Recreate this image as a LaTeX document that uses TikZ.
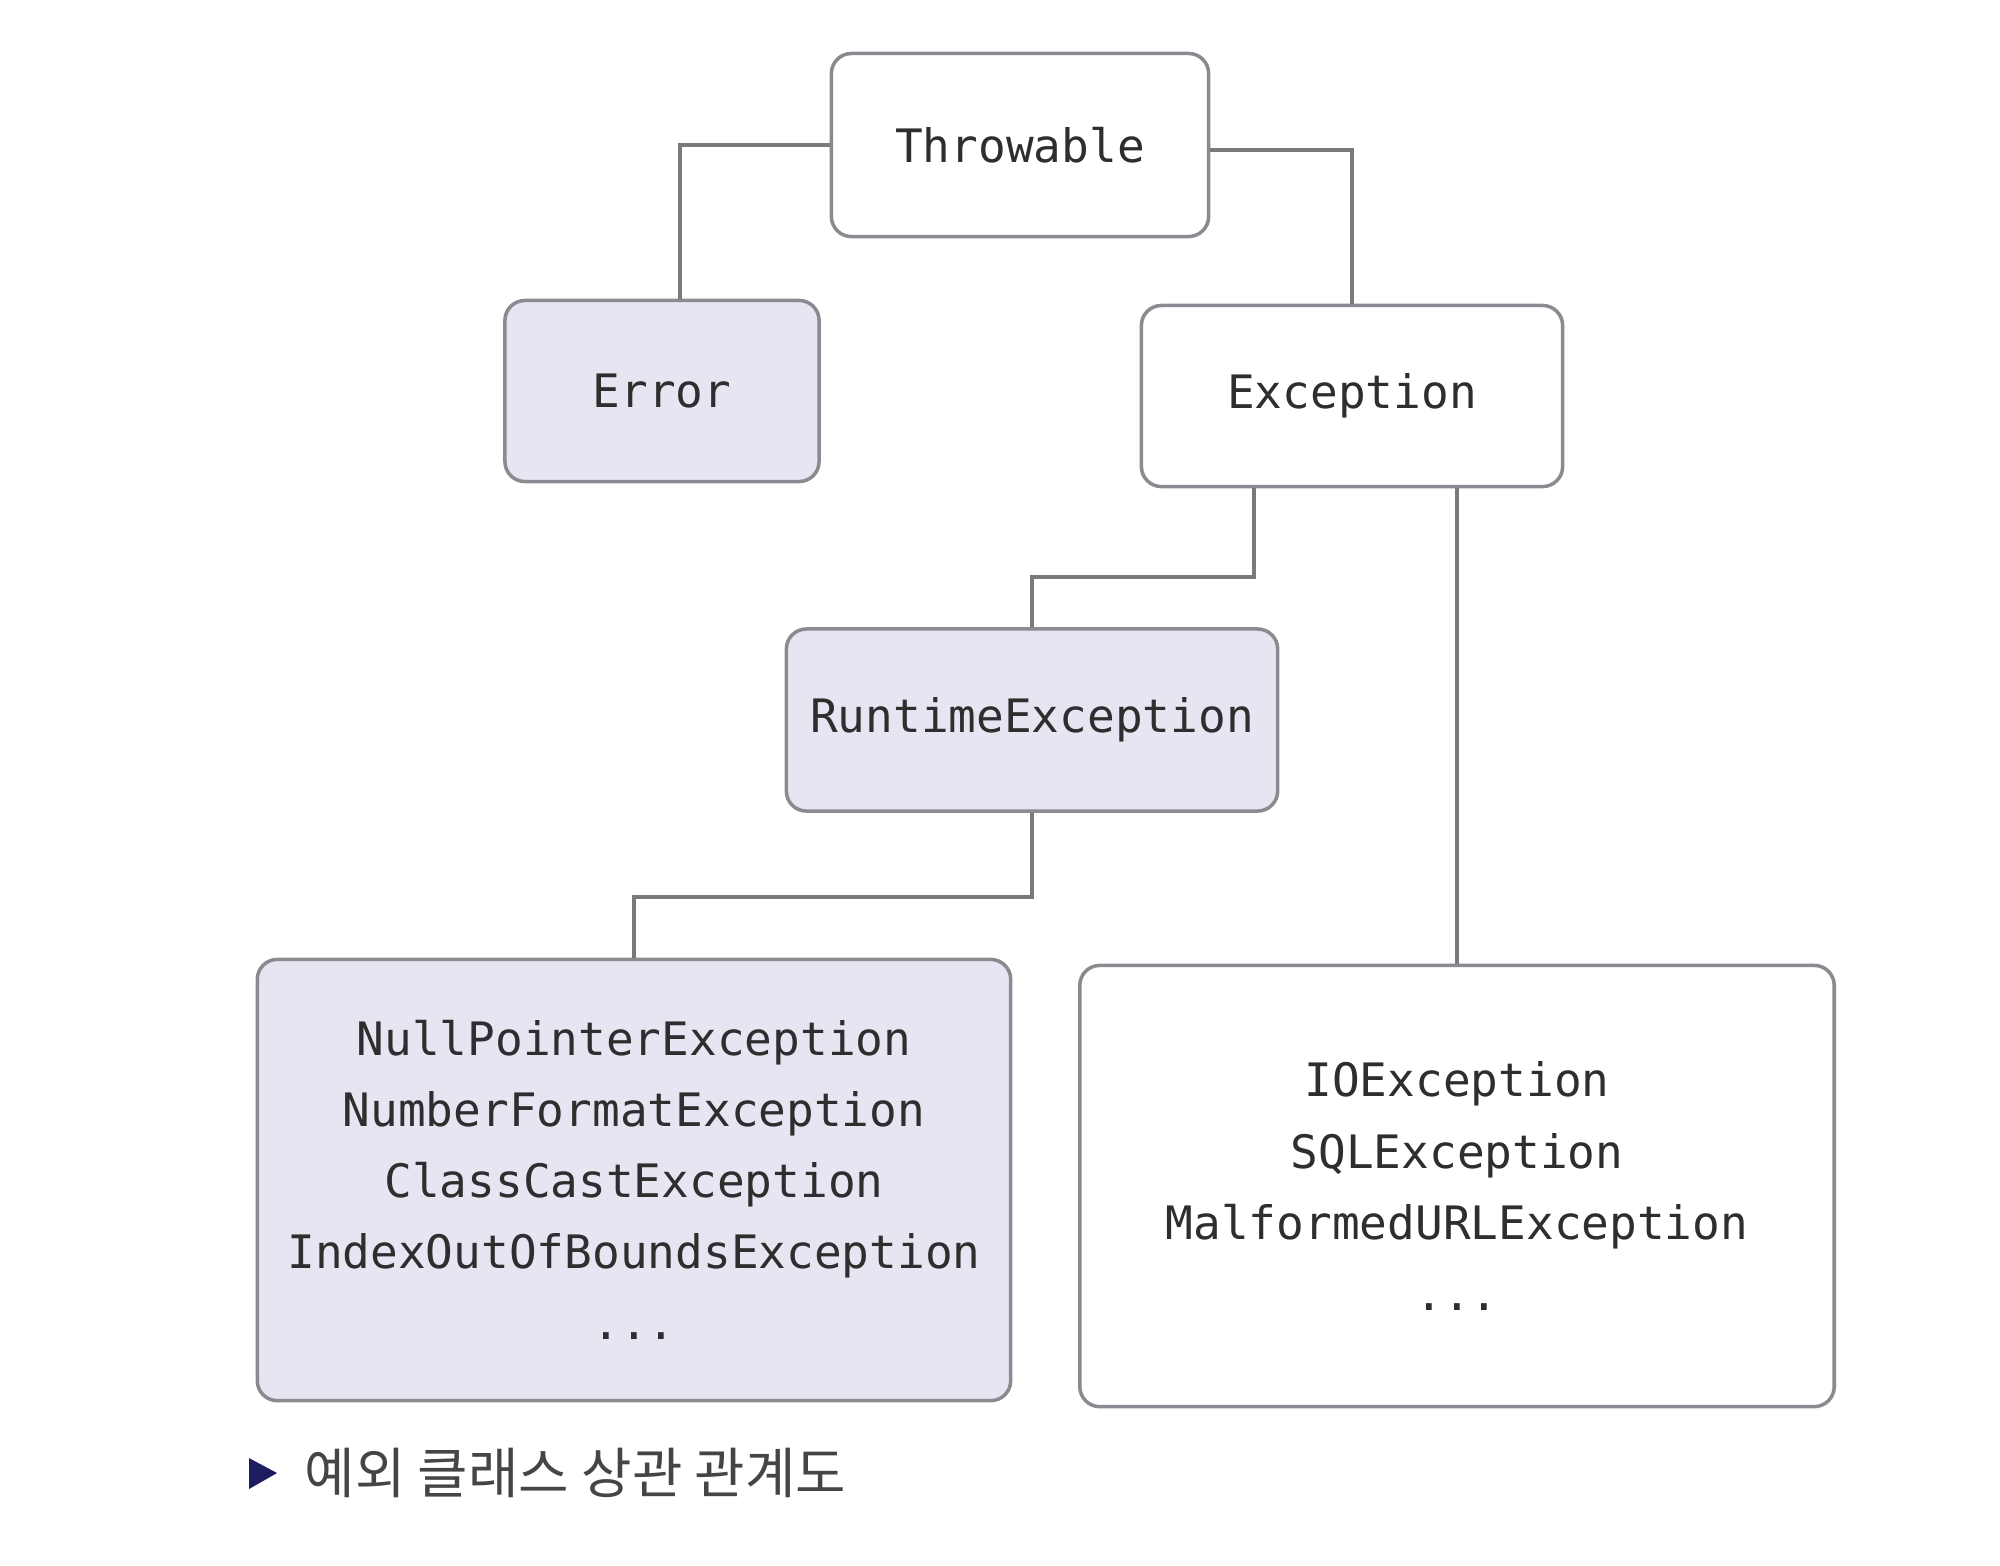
\documentclass[tikz,border=0pt]{standalone}
\usepackage{fontspec}
\setmonofont{DejaVu Sans Mono}
\newfontfamily\krfont{Noto Sans CJK KR}
\definecolor{boxline}{HTML}{8A8A90}
\definecolor{connline}{HTML}{7A7A7A}
\definecolor{lav}{HTML}{E6E6F2}
\definecolor{txt}{HTML}{2E2E2E}
\definecolor{capgray}{HTML}{454545}
\definecolor{navy}{HTML}{1C1C5E}
\tikzset{
  basebox/.style={draw=boxline, line width=1pt, rounded corners=0.2cm, inner sep=0pt,
    align=center, text=txt, font=\ttfamily\fontsize{13.1}{20.2}\selectfont},
  wbox/.style={basebox, fill=white},
  pbox/.style={basebox, fill=lav},
  conn/.style={draw=connline, line width=0.9pt}
}
\begin{document}
\begin{tikzpicture}[x=0.01cm, y=-0.01cm]
\useasboundingbox (0,0) rectangle (2000,1565);
\node[wbox, minimum width=3.77cm, minimum height=1.83cm] (T) at (1020,145) {Throwable};
\node[pbox, minimum width=3.14cm, minimum height=1.81cm] (E) at (662,391) {Error};
\node[wbox, minimum width=4.21cm, minimum height=1.81cm] (X) at (1352,396) {Exception};
\node[pbox, minimum width=4.91cm, minimum height=1.82cm] (RT) at (1032,720) {RuntimeException};
\node[pbox, minimum width=7.53cm, minimum height=4.41cm] (LB) at (634,1180)
  {NullPointerException\\NumberFormatException\\ClassCastException\\IndexOutOfBoundsException\\...};
\node[wbox, minimum width=7.54cm, minimum height=4.41cm] (RB) at (1457,1186)
  {IOException\\SQLException\\MalformedURLException\\...};
\coordinate (a1) at (1254,577);
\coordinate (b1) at (634,897);
\draw[conn] (T.west) -| ([xshift=0.18cm]E.north);
\draw[conn] ([yshift=-0.05cm]T.east) -| (X.north);
\draw[conn] (a1 |- X.south) -- (a1) -| (RT.north);
\draw[conn] (RB.north |- X.south) -- (RB.north);
\draw[conn] (RT.south) |- (b1) -- (LB.north);
\fill[navy] (249,1458) -- (277,1473) -- (249,1489) -- cycle;
\node[anchor=west, inner sep=0pt, font=\krfont\fontsize{15.6}{16}\selectfont, text=capgray] (cap) at (304,1473) {예외 클래스 상관 관계도};
\end{tikzpicture}
\end{document}
